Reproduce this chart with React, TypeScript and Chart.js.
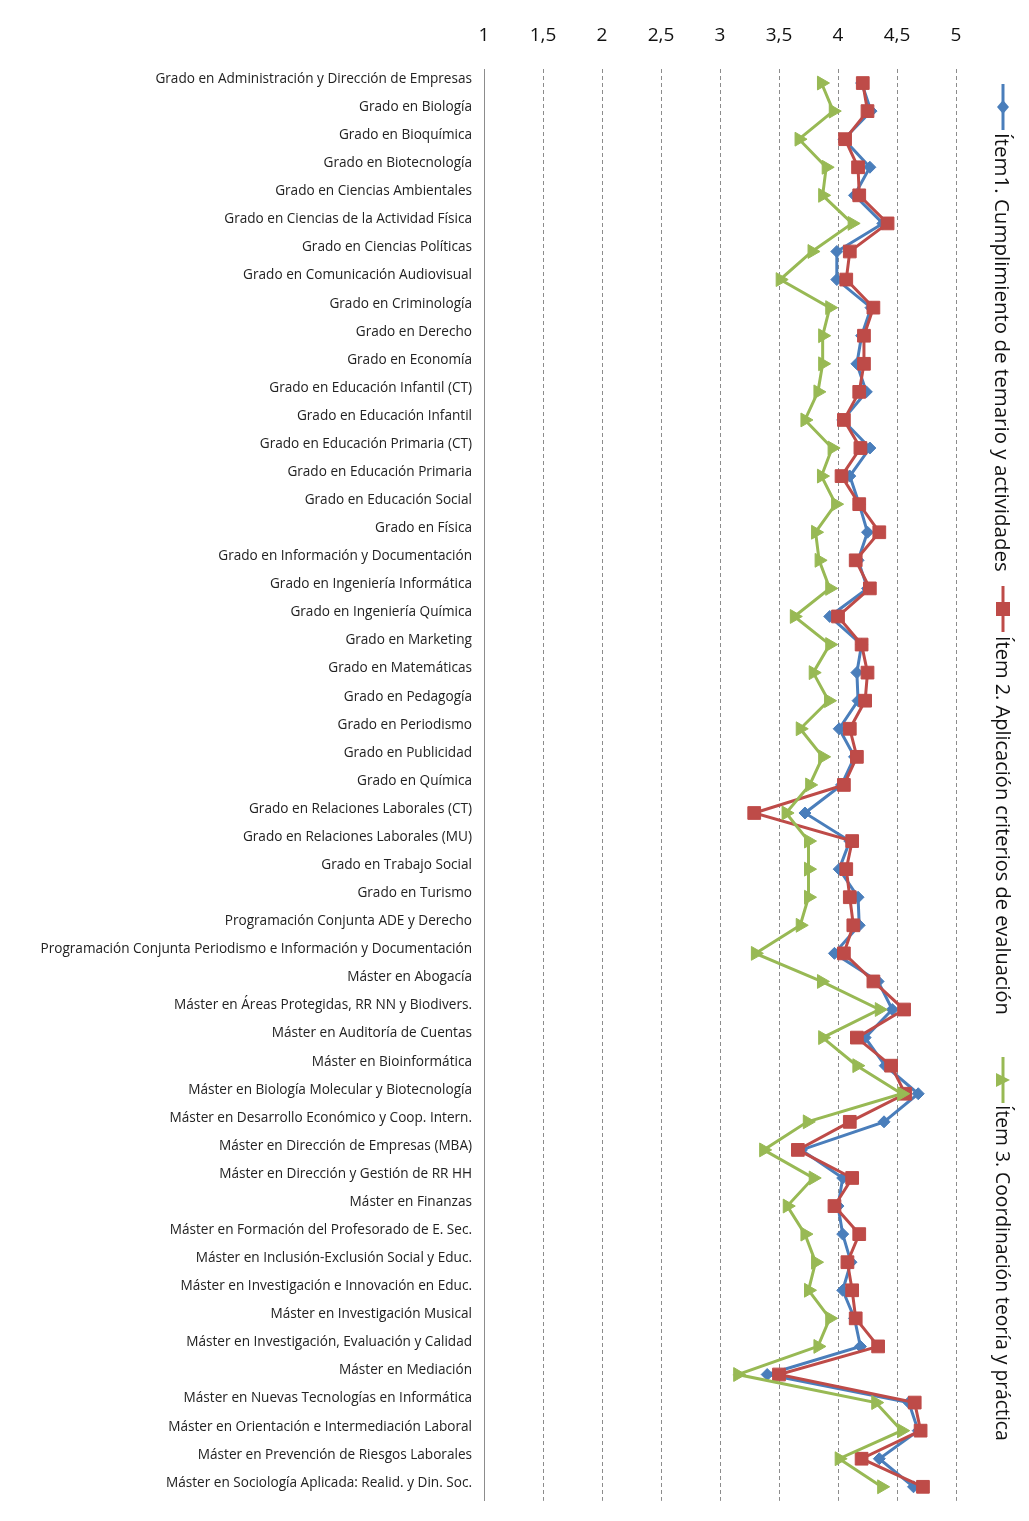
import React, { useEffect, useRef } from "react";
import { Chart, registerables } from "chart.js";
Chart.register(...registerables);

const categories: string[] = [
  "Grado en Administración y Dirección de Empresas",
  "Grado en Biología",
  "Grado en Bioquímica",
  "Grado en Biotecnología",
  "Grado en Ciencias Ambientales",
  "Grado en Ciencias de la Actividad Física",
  "Grado en Ciencias Políticas",
  "Grado en Comunicación Audiovisual",
  "Grado en Criminología",
  "Grado en Derecho",
  "Grado en Economía",
  "Grado en Educación Infantil (CT)",
  "Grado en Educación Infantil",
  "Grado en Educación Primaria (CT)",
  "Grado en Educación Primaria",
  "Grado en Educación Social",
  "Grado en Física",
  "Grado en Información y Documentación",
  "Grado en Ingeniería Informática",
  "Grado en Ingeniería Química",
  "Grado en Marketing",
  "Grado en Matemáticas",
  "Grado en Pedagogía",
  "Grado en Periodismo",
  "Grado en Publicidad",
  "Grado en Química",
  "Grado en Relaciones Laborales (CT)",
  "Grado en Relaciones Laborales (MU)",
  "Grado en Trabajo Social",
  "Grado en Turismo",
  "Programación Conjunta ADE y Derecho",
  "Programación Conjunta Periodismo e Información y Documentación",
  "Máster en Abogacía",
  "Máster en Áreas Protegidas, RR NN y Biodivers.",
  "Máster en Auditoría de Cuentas",
  "Máster en Bioinformática",
  "Máster en Biología Molecular y Biotecnología",
  "Máster en Desarrollo Económico y Coop. Intern.",
  "Máster en Dirección de Empresas (MBA)",
  "Máster en Dirección y Gestión de RR HH",
  "Máster en Finanzas",
  "Máster en Formación del Profesorado de E. Sec.",
  "Máster en Inclusión-Exclusión Social y Educ.",
  "Máster en Investigación e Innovación en Educ.",
  "Máster en Investigación Musical",
  "Máster en Investigación, Evaluación y Calidad",
  "Máster en Mediación",
  "Máster en Nuevas Tecnologías en Informática",
  "Máster en Orientación e Intermediación Laboral",
  "Máster en Prevención de Riesgos Laborales",
  "Máster en Sociología Aplicada: Realid. y Din. Soc.",
];

const item1: number[] = [
  4.2, 4.28, 4.05, 4.27, 4.14, 4.38, 3.99, 3.99, 4.28, 4.2,
  4.16, 4.24, 4.04, 4.27, 4.1, 4.18, 4.25, 4.17, 4.25, 3.93,
  4.2, 4.16, 4.17, 4.01, 4.14, 4.03, 3.72, 4.1, 4.01, 4.17,
  4.18, 3.97, 4.34, 4.46, 4.23, 4.4, 4.68, 4.39, 3.69, 4.04,
  4.0, 4.04, 4.11, 4.04, 4.14, 4.19, 3.4, 4.6, 4.68, 4.35,
  4.64,
];

const item2: number[] = [
  4.21, 4.25, 4.06, 4.17, 4.18, 4.42, 4.1, 4.07, 4.3, 4.22,
  4.22, 4.18, 4.05, 4.19, 4.03, 4.18, 4.35, 4.15, 4.27, 4.0,
  4.2, 4.25, 4.23, 4.1, 4.16, 4.05, 3.29, 4.12, 4.07, 4.1,
  4.13, 4.05, 4.3, 4.56, 4.16, 4.45, 4.57, 4.1, 3.66, 4.12,
  3.97, 4.18, 4.08, 4.12, 4.15, 4.34, 3.5, 4.65, 4.7, 4.2,
  4.72,
];

const item3: number[] = [
  3.86, 3.96, 3.67, 3.9, 3.87, 4.12, 3.78, 3.51, 3.93, 3.87,
  3.87, 3.83, 3.72, 3.95, 3.86, 3.98, 3.81, 3.84, 3.93, 3.63,
  3.93, 3.79, 3.92, 3.68, 3.87, 3.76, 3.56, 3.75, 3.75, 3.75,
  3.68, 3.3, 3.86, 4.35, 3.87, 4.16, 4.54, 3.74, 3.37, 3.79,
  3.57, 3.72, 3.81, 3.75, 3.93, 3.83, 3.15, 4.32, 4.54, 4.01,
  4.37,
];

const seriesNames: string[] = [
  "Ítem1. Cumplimiento de temario y actividades",
  "Ítem 2. Aplicación criterios de evaluación",
  "Ítem 3. Coordinación teoría y práctica",
];

const xMin = 1;
const xMax = 5;
const xStep = 0.5;

const BLUE = "#4A7EBB";
const RED = "#BE4B48";
const GREEN = "#98B954";

const labelFont = '"Open Sans", "Liberation Sans", sans-serif';

const legendItems = [
  { name: seriesNames[0], color: BLUE, shape: "diamond", top: 84, textTop: 133, size: 20.5 },
  { name: seriesNames[1], color: RED, shape: "square", top: 586, textTop: 636, size: 20 },
  { name: seriesNames[2], color: GREEN, shape: "triangle", top: 1057, textTop: 1105, size: 19.3 },
];

function LegendMarker({ color, shape }: { color: string; shape: string }) {
  let marker: React.ReactNode = null;
  if (shape === "diamond") marker = <polygon points="10,16 16,23 10,30 4,23" fill={color} />;
  if (shape === "square") marker = <rect x={3} y={16} width={14} height={14} fill={color} />;
  if (shape === "triangle") marker = <polygon points="3,16 17,23 3,30" fill={color} />;
  return (
    <svg width={20} height={46} style={{ display: "block" }}>
      <line x1={10} y1={0} x2={10} y2={46} stroke={color} strokeWidth={3} />
      {marker}
    </svg>
  );
}

export default function App() {
  const ref = useRef<HTMLCanvasElement>(null);
  useEffect(() => {
    document.body.style.margin = "0";
    const chart = new Chart(ref.current!, {
      type: "line",
      data: {
        labels: categories,
        datasets: [
          {
            label: seriesNames[0],
            data: item1,
            borderColor: BLUE,
            backgroundColor: BLUE,
            borderWidth: 3,
            pointStyle: "rectRot",
            pointRadius: 6,
            pointBorderWidth: 1,
            tension: 0,
            order: 3,
          },
          {
            label: seriesNames[1],
            data: item2,
            borderColor: RED,
            backgroundColor: RED,
            borderWidth: 3,
            pointStyle: "rect",
            pointRadius: 9,
            pointBorderWidth: 1,
            tension: 0,
            order: 2,
          },
          {
            label: seriesNames[2],
            data: item3,
            borderColor: GREEN,
            backgroundColor: GREEN,
            borderWidth: 3,
            pointStyle: "triangle",
            pointRotation: 90,
            pointRadius: 8,
            pointBorderWidth: 1,
            tension: 0,
            order: 1,
          },
        ],
      },
      options: {
        indexAxis: "y",
        responsive: false,
        animation: false,
        layout: { padding: { top: 0, right: 73, bottom: 17, left: 0 } },
        plugins: { legend: { display: false }, tooltip: { enabled: false } },
        scales: {
          x: {
            type: "linear",
            position: "top",
            min: xMin,
            max: xMax,
            ticks: {
              stepSize: xStep,
              callback: (v: any) => String(v).replace(".", ","),
              font: { family: labelFont, size: 19 },
              color: "#111",
              padding: 22,
            },
            grid: { color: "#8c8c8c", drawTicks: false, lineWidth: 1 },
            border: { display: false, dash: [4, 3] },
            afterFit: (s: any) => {
              s.height = 69;
            },
          },
          y: {
            type: "category",
            offset: true,
            ticks: {
              font: { family: labelFont, size: 13.6 },
              color: "#222",
              padding: 12,
              autoSkip: false,
              labelOffset: -4,
            },
            grid: { display: false, drawTicks: false },
            border: { display: true, color: "#8c8c8c", width: 1 },
            afterFit: (s: any) => {
              s.width = 484;
            },
          },
        },
      },
    } as any);
    return () => chart.destroy();
  }, []);

  return (
    <div style={{ position: "absolute", left: 0, top: 0, width: 1029, height: 1521, background: "#fff" }}>
      <canvas ref={ref} width={1029} height={1521} style={{ display: "block" }} />
      {legendItems.map((it) => (
        <React.Fragment key={it.name}>
          <div style={{ position: "absolute", left: 993, top: it.top }}>
            <LegendMarker color={it.color} shape={it.shape} />
          </div>
          <div
            style={{
              position: "absolute",
              left: 991,
              top: it.textTop,
              writingMode: "vertical-rl",
              fontFamily: labelFont,
              fontSize: it.size,
              lineHeight: "24px",
              color: "#111",
              whiteSpace: "nowrap",
            }}
          >
            {it.name}
          </div>
        </React.Fragment>
      ))}
    </div>
  );
}
